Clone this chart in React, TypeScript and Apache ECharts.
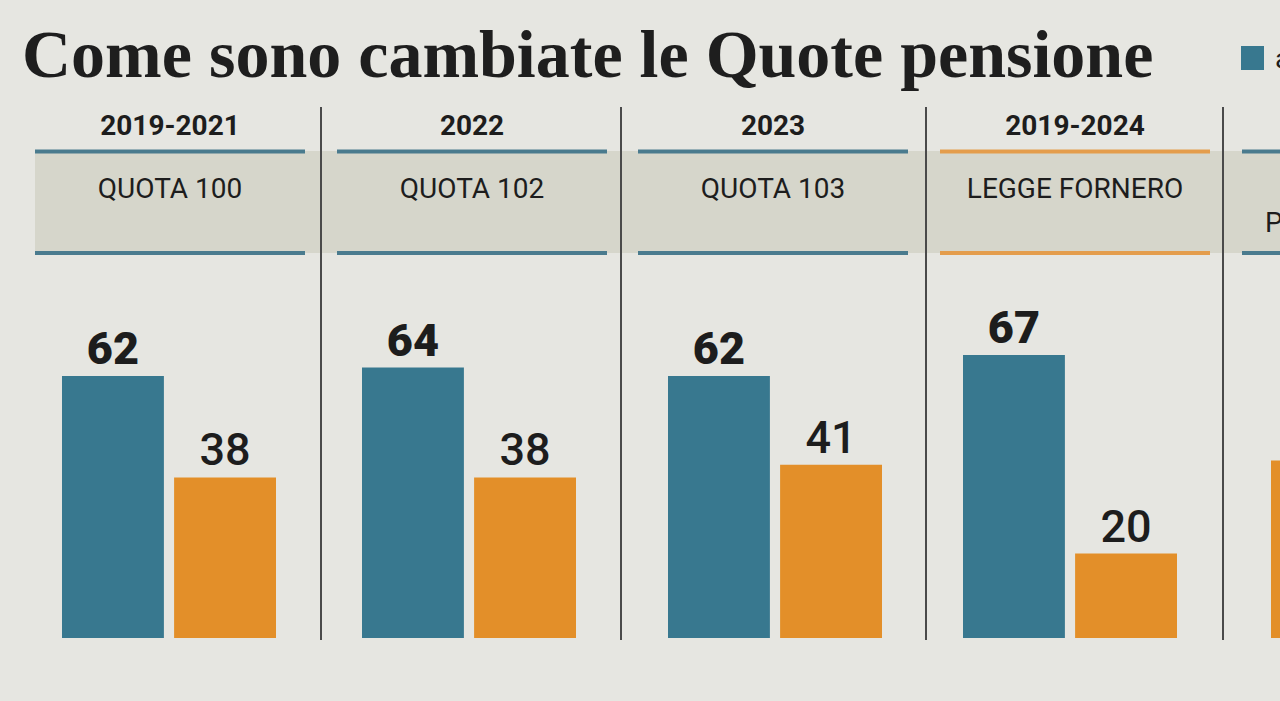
import React, { useEffect, useRef } from "react";
import * as echarts from "echarts";

const title = "Come sono cambiate le Quote pensione";
const years = ["2019-2021", "2022", "2023", "2019-2024"];
const headers = ["QUOTA 100", "QUOTA 102", "QUOTA 103", "LEGGE FORNERO"];
const ageValues = [62, 64, 62, 67];
const contribValues = [38, 38, 41, 20];
const lastPanelHeader = "PENSIONE ANTICIPATA";
const lastPanelContrib = [42];
const legendLabel = "anni di età";

const BLUE = "#38788f";
const ORANGE = "#e38f29";
const BLUE_LINE = "#4a7b8e";
const ORANGE_LINE = "#e49d4c";
const TEXT = "#1d1d1d";
const FONT = "Roboto, 'Noto Sans', sans-serif";

const panelLeft = [35, 337, 638, 940, 1242];
const panelWidth = 270;
const barLeft = [62, 362, 668, 963];
const lastBarLeft = 1271;
const separators = [321, 621, 926, 1223];
const GRID_TOP = 300;
const GRID_H = 338;
const Y_MAX = 80;

export default function App() {
  const ref = useRef<HTMLDivElement>(null);
  useEffect(() => {
    if (!ref.current) return;
    const chart = echarts.init(ref.current, null, { renderer: "svg" });
    const grids: any[] = [];
    const xAxes: any[] = [];
    const yAxes: any[] = [];
    const series: any[] = [];
    const labelBase = { show: true, position: "top", distance: 5, fontSize: 45, fontFamily: FONT, color: TEXT };
    for (let i = 0; i < years.length; i++) {
      grids.push({ left: barLeft[i], top: GRID_TOP, width: 214, height: GRID_H });
      xAxes.push({ type: "category", gridIndex: i, data: [years[i]], show: false });
      yAxes.push({ type: "value", gridIndex: i, min: 0, max: Y_MAX, show: false });
      series.push({
        type: "bar", name: "età", xAxisIndex: i, yAxisIndex: i, data: [ageValues[i]],
        barWidth: 102, barGap: "10%", itemStyle: { color: BLUE },
        label: { ...labelBase, fontWeight: 900 },
      });
      series.push({
        type: "bar", name: "contributi", xAxisIndex: i, yAxisIndex: i, data: [contribValues[i]],
        barWidth: 102, barGap: "10%", itemStyle: { color: ORANGE },
        label: { ...labelBase, fontWeight: 500 },
      });
    }
    const li = years.length;
    grids.push({ left: lastBarLeft, top: GRID_TOP, width: 102, height: GRID_H });
    xAxes.push({ type: "category", gridIndex: li, data: [""], show: false });
    yAxes.push({ type: "value", gridIndex: li, min: 0, max: Y_MAX, show: false });
    series.push({
      type: "bar", name: "contributi", xAxisIndex: li, yAxisIndex: li, data: lastPanelContrib,
      barWidth: 102, itemStyle: { color: ORANGE }, label: { show: false },
    });

    const graphics: any[] = [];
    graphics.push({ type: "rect", shape: { x: 35, y: 151, width: 1245, height: 102 }, style: { fill: "#d6d6cb" }, z: 0 });
    panelLeft.forEach((x, i) => {
      const c = i === 3 ? ORANGE_LINE : BLUE_LINE;
      graphics.push({ type: "rect", shape: { x, y: 149.5, width: panelWidth, height: 4 }, style: { fill: c }, z: 1 });
      graphics.push({ type: "rect", shape: { x, y: 251, width: panelWidth, height: 4 }, style: { fill: c }, z: 1 });
    });
    separators.forEach((x) => {
      graphics.push({ type: "rect", shape: { x: x - 1, y: 107, width: 2, height: 533 }, style: { fill: "#4a4a4a" }, z: 2 });
    });
    years.forEach((y, i) => {
      graphics.push({
        type: "text", x: panelLeft[i] + panelWidth / 2, y: 125, z: 3,
        style: { text: y, font: `bold 28px ${FONT}`, fill: TEXT, align: "center", verticalAlign: "middle" },
      });
      graphics.push({
        type: "text", x: panelLeft[i] + panelWidth / 2, y: 188, z: 3,
        style: { text: headers[i], font: `400 28px ${FONT}`, fill: TEXT, align: "center", verticalAlign: "middle" },
      });
    });
    graphics.push({
      type: "text", x: 1265, y: 222, z: 3,
      style: { text: lastPanelHeader, font: `400 28px ${FONT}`, fill: TEXT, align: "left", verticalAlign: "middle" },
    });
    graphics.push({
      type: "text", x: 22, y: 54, z: 3,
      style: { text: title, font: `bold 68px 'Liberation Serif', serif`, fill: "#1e1e1e", align: "left", verticalAlign: "middle" },
    });
    graphics.push({ type: "rect", shape: { x: 1241, y: 46, width: 23, height: 24 }, style: { fill: BLUE }, z: 3 });
    graphics.push({
      type: "text", x: 1275, y: 58, z: 3,
      style: { text: legendLabel, font: `400 28px ${FONT}`, fill: TEXT, align: "left", verticalAlign: "middle" },
    });

    chart.setOption({
      animation: false,
      backgroundColor: "#e6e6e1",
      grid: grids,
      xAxis: xAxes,
      yAxis: yAxes,
      series,
      graphic: { elements: graphics },
    });
    return () => chart.dispose();
  }, []);
  return <div ref={ref} style={{ position: "absolute", left: 0, top: 0, width: 1280, height: 701 }} />;
}
